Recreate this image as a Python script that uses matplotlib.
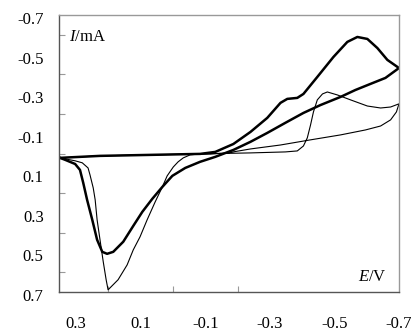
import matplotlib
matplotlib.use("Agg")
import matplotlib.pyplot as plt
from matplotlib.ticker import FixedLocator
from matplotlib.transforms import ScaledTranslation

plt.rcParams['font.family'] = ['Liberation Serif', 'DejaVu Serif']
plt.rcParams['mathtext.fontset'] = 'custom'
plt.rcParams['mathtext.rm'] = 'Liberation Serif'
plt.rcParams['mathtext.it'] = 'Liberation Serif:italic'

# Thick CV: cathodic (forward) sweep then anodic (return) sweep
thick_fwd_E = [0.35, 0.226, 0.071, -0.084, -0.131, -0.187, -0.240, -0.292, -0.333, -0.354,
               -0.385, -0.404, -0.447, -0.497, -0.540, -0.571, -0.602, -0.633, -0.664, -0.70]
thick_fwd_I = [0.022, 0.012, 0.007, 0.002, -0.008, -0.048, -0.109, -0.180, -0.256, -0.276,
               -0.281, -0.301, -0.387, -0.488, -0.564, -0.589, -0.579, -0.533, -0.473, -0.432]
thick_ret_E = [-0.70, -0.658, -0.612, -0.565, -0.519, -0.457, -0.404, -0.348, -0.292, -0.240,
               -0.187, -0.131, -0.084, -0.038, 0.002, 0.033, 0.064, 0.095, 0.123, 0.154,
               0.185, 0.204, 0.219, 0.235, 0.250, 0.266, 0.278, 0.288, 0.303, 0.334, 0.35]
thick_ret_I = [-0.432, -0.382, -0.352, -0.321, -0.286, -0.245, -0.205, -0.155, -0.104, -0.059,
               -0.018, 0.017, 0.042, 0.073, 0.113, 0.169, 0.229, 0.295, 0.366, 0.446,
               0.497, 0.507, 0.497, 0.436, 0.335, 0.234, 0.148, 0.083, 0.053, 0.032, 0.022]

# Thin CV
thin_fwd_E = [0.35, 0.226, 0.071, -0.084, -0.240, -0.348, -0.385, -0.404, -0.416, -0.426,
              -0.435, -0.447, -0.463, -0.478, -0.509, -0.550, -0.602, -0.643, -0.674, -0.70]
thin_fwd_I = [0.022, 0.012, 0.007, 0.002, -0.003, -0.008, -0.013, -0.038, -0.079, -0.144,
              -0.210, -0.271, -0.301, -0.311, -0.296, -0.271, -0.240, -0.230, -0.235, -0.251]
thin_ret_E = [-0.70, -0.692, -0.674, -0.643, -0.596, -0.519, -0.426, -0.333, -0.240, -0.168,
              -0.116, -0.084, -0.053, -0.032, -0.016, -0.001, 0.018, 0.033, 0.055, 0.080,
              0.102, 0.123, 0.142, 0.170, 0.201, 0.207, 0.216, 0.226, 0.235, 0.241,
              0.247, 0.257, 0.263, 0.281, 0.303, 0.334, 0.35]
thin_ret_I = [-0.251, -0.210, -0.170, -0.139, -0.119, -0.094, -0.069, -0.043, -0.023, -0.003,
              0.002, 0.002, 0.007, 0.022, 0.042, 0.068, 0.113, 0.169, 0.244, 0.335,
              0.421, 0.487, 0.563, 0.638, 0.689, 0.638, 0.547, 0.436, 0.335, 0.234,
              0.174, 0.108, 0.073, 0.047, 0.037, 0.027, 0.022]

x_labels = [0.3, 0.1, -0.1, -0.3, -0.5, -0.7]
x_tickmarks = [0.3, 0.2, 0.1, 0.0, -0.1, -0.2, -0.5]
y_labels = [-0.7, -0.5, -0.3, -0.1, 0.1, 0.3, 0.5, 0.7]
y_tickmarks = [-0.7, -0.6, -0.5, -0.4, -0.3, -0.2, -0.1, 0.0, 0.1, 0.2, 0.3, 0.4, 0.5, 0.6, 0.7]

fig = plt.figure(figsize=(4.13, 3.33), dpi=100)
ax = fig.add_axes([59/413, 1-292/333, 340/413, 277/333])

ax.plot(thick_fwd_E + thick_ret_E, thick_fwd_I + thick_ret_I, color='black', lw=1.8,
        solid_joinstyle='round')
ax.plot(thin_fwd_E + thin_ret_E, thin_fwd_I + thin_ret_I, color='black', lw=0.8,
        solid_joinstyle='round')

ax.set_xlim(0.353, -0.70)
ax.set_ylim(0.70, -0.70)

ax.xaxis.set_major_locator(FixedLocator(x_labels))
ax.set_xticklabels(['%g' % v for v in x_labels])
ax.xaxis.set_minor_locator(FixedLocator(x_tickmarks))
ax.yaxis.set_major_locator(FixedLocator(y_labels))
ax.set_yticklabels(['%g' % v for v in y_labels])
ax.yaxis.set_minor_locator(FixedLocator(y_tickmarks))

ax.tick_params(axis='x', which='major', length=0, pad=17, labelsize=12)
ax.tick_params(axis='x', which='minor', direction='in', length=4, width=0.8, color='#999999')
ax.tick_params(axis='y', which='major', length=0, pad=11, labelsize=12)
ax.tick_params(axis='y', which='minor', direction='in', length=4, width=0.8, color='#999999')

shift = ScaledTranslation(0, -3/100, fig.dpi_scale_trans)
for lbl in ax.get_yticklabels():
    lbl.set_transform(lbl.get_transform() + shift)

for s in ['left', 'bottom']:
    ax.spines[s].set_color('#555555')
    ax.spines[s].set_linewidth(1.0)
for s in ['top', 'right']:
    ax.spines[s].set_color('#999999')
    ax.spines[s].set_linewidth(1.0)

ax.text(0.03, 0.92, r'$I$/mA', transform=ax.transAxes, fontsize=12, ha='left', va='center')
ax.text(0.965, 0.055, r'$E$/V', transform=ax.transAxes, fontsize=12, ha='right', va='center')

fig.savefig('out.png', dpi=100)
